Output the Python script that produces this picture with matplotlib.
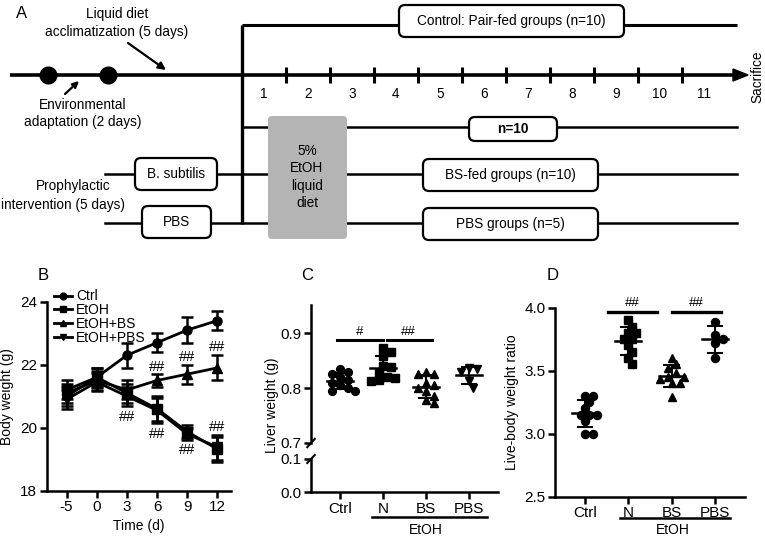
import numpy as np
import matplotlib
matplotlib.use("Agg")
import matplotlib.pyplot as plt
from matplotlib.patches import FancyBboxPatch, Polygon
import matplotlib.transforms as mtransforms

plt.rcParams['font.family'] = ['Liberation Sans', 'DejaVu Sans']
plt.rcParams['font.size'] = 10

# ---- data ----
# panel A (schedule)
day_labels = [str(d) for d in range(1, 12)]
# panel B: body weight
time_labels = ['-5', '0', '3', '6', '9', '12']
ctrl_bw = [21.0, 21.6, 22.3, 22.7, 23.1, 23.4]
ctrl_sd = [0.3, 0.3, 0.4, 0.3, 0.4, 0.3]
etoh_bw = [21.2, 21.6, 21.1, 20.6, 19.87, 19.32]
etoh_sd = [0.3, 0.3, 0.3, 0.4, 0.2, 0.4]
bs_bw = [21.1, 21.5, 21.2, 21.5, 21.7, 21.9]
bs_sd = [0.3, 0.3, 0.3, 0.2, 0.3, 0.4]
pbs_bw = [20.9, 21.45, 21.0, 20.55, 19.8, 19.38]
pbs_sd = [0.3, 0.3, 0.3, 0.4, 0.2, 0.4]
sig_b_idx = [2, 3, 3, 4, 4, 5, 5]
sig_b_y = [20.33, 21.92, 19.8, 22.23, 19.29, 22.57, 20.03]

# panel C: liver weight
groups = ['Ctrl', 'N', 'BS', 'PBS']
ctrl_lw = [0.835, 0.830, 0.825, 0.820, 0.815, 0.810, 0.805, 0.800, 0.795, 0.795]
n_lw = [0.873, 0.866, 0.858, 0.840, 0.838, 0.828, 0.820, 0.818, 0.815, 0.812]
bs_lw = [0.830, 0.825, 0.825, 0.810, 0.805, 0.800, 0.795, 0.785, 0.778, 0.772]
pbs_lw = [0.837, 0.835, 0.830, 0.812, 0.800]

# panel D: liver-body weight ratio
ctrl_ratio = [3.30, 3.30, 3.25, 3.20, 3.15, 3.15, 3.15, 3.10, 3.00, 3.00]
n_ratio = [3.90, 3.85, 3.80, 3.80, 3.75, 3.75, 3.70, 3.65, 3.60, 3.55]
bs_ratio = [3.60, 3.55, 3.52, 3.48, 3.45, 3.45, 3.43, 3.40, 3.40, 3.29]
pbs_ratio = [3.89, 3.78, 3.75, 3.72, 3.60]

W, H = 765, 540
fig = plt.figure(figsize=(W / 100, H / 100), dpi=100)
TICK_FS = 11
LAB_FS = 10


def px_axes(x0, y0, x1, y1):
    # axes from pixel box (top-left origin)
    return fig.add_axes([x0 / W, (H - y1) / H, (x1 - x0) / W, (y1 - y0) / H])


def style(ax):
    for s in ['top', 'right']:
        ax.spines[s].set_visible(False)
    for s in ['left', 'bottom']:
        ax.spines[s].set_linewidth(1.8)
    ax.tick_params(direction='out', length=5, width=1.8, labelsize=TICK_FS, pad=2)


# ================= A =================
axA = fig.add_axes([0, (H - 250) / H, 1, 250 / H])
axA.set_xlim(0, W)
axA.set_ylim(250, 0)
axA.axis('off')
fs = 9.8
axA.text(22, 14, 'A', fontsize=12, ha='center', va='center')

axA.plot([10, 736], [75, 75], color='k', lw=2.6, solid_capstyle='butt')
axA.add_patch(Polygon([[733, 69], [748, 75], [733, 81]], closed=True, color='k'))
axA.plot([48, 108], [75, 75], 'o', color='k', ms=12)
tick_x = 286 + 44 * np.arange(10)
for x in tick_x:
    axA.plot([x, x], [67, 83], color='k', lw=2.2, solid_capstyle='butt')
edges = np.concatenate([[242], tick_x, [726]])
for i, lab in enumerate(day_labels):
    axA.text((edges[i] + edges[i + 1]) / 2, 94, lab, fontsize=fs, ha='center', va='center')
axA.text(757, 77, 'Sacrifice', fontsize=fs, rotation=90, ha='center', va='center')

axA.plot([242, 242], [25, 224], color='k', lw=2.4, solid_capstyle='butt')
axA.plot([242, 737], [25, 25], color='k', lw=2.2, solid_capstyle='butt')
axA.plot([242, 737], [127, 127], color='k', lw=1.8)
axA.plot([105, 737], [174, 174], color='k', lw=1.8)
axA.plot([105, 737], [223, 223], color='k', lw=1.8)

axA.add_patch(FancyBboxPatch((268, 116), 79, 123, boxstyle='round,pad=0,rounding_size=4',
                             fc='#b4b4b4', ec='none', zorder=3))
for j, t in enumerate(['5%', 'EtOH', 'liquid', 'diet']):
    axA.text(307, 151 + 17.5 * j, t, fontsize=fs, ha='center', va='center', zorder=4)


def box(x0, y0, x1, y1, text, bold=False):
    axA.add_patch(FancyBboxPatch((x0, y0), x1 - x0, y1 - y0,
                                 boxstyle='round,pad=0,rounding_size=6',
                                 fc='white', ec='k', lw=1.6, zorder=3))
    axA.text((x0 + x1) / 2, (y0 + y1) / 2, text, fontsize=fs, ha='center', va='center',
             zorder=4, fontweight='bold' if bold else 'normal')


box(399, 5, 624, 37, 'Control: Pair-fed groups (n=10)')
box(469, 117, 557, 141, 'n=10', bold=True)
box(135, 158, 217, 190, 'B. subtilis')
box(423, 159, 598, 191, 'BS-fed groups (n=10)')
box(142, 206, 211, 238, 'PBS')
box(423, 208, 598, 240, 'PBS groups (n=5)')

axA.text(117, 14, 'Liquid diet', fontsize=fs, ha='center', va='center')
axA.text(117, 32, 'acclimatization (5 days)', fontsize=fs, ha='center', va='center')
axA.annotate('', xy=(166, 70), xytext=(128, 43),
             arrowprops=dict(arrowstyle='-|>', color='k', lw=1.6, mutation_scale=11,
                             shrinkA=0, shrinkB=0))
axA.text(83, 105, 'Environmental', fontsize=fs, ha='center', va='center')
axA.text(83, 122, 'adaptation (2 days)', fontsize=fs, ha='center', va='center')
axA.annotate('', xy=(79, 81), xytext=(65, 94),
             arrowprops=dict(arrowstyle='-|>', color='k', lw=1.6, mutation_scale=9,
                             shrinkA=0, shrinkB=0))
axA.text(73, 186, 'Prophylactic', fontsize=fs, ha='center', va='center')
axA.text(63, 205, 'intervention (5 days)', fontsize=fs, ha='center', va='center')

# ================= B =================
axB = px_axes(46.7, 301.7, 231, 490.7)
style(axB)
xi = np.arange(len(time_labels))
series = [(ctrl_bw, ctrl_sd, 'o', 'Ctrl'), (etoh_bw, etoh_sd, 's', 'EtOH'),
          (bs_bw, bs_sd, '^', 'EtOH+BS'), (pbs_bw, pbs_sd, 'v', 'EtOH+PBS')]
for m, s, mk, lab in series:
    axB.errorbar(xi, m, yerr=s, fmt='none', ecolor='k', elinewidth=1.8, capsize=4,
                 capthick=1.8, clip_on=False)
    axB.plot(xi, m, marker=mk, color='k', lw=2, ms=6.5, label=lab, clip_on=False)
for i, y in zip(sig_b_idx, sig_b_y):
    axB.text(xi[i], y, '##', ha='center', va='center', fontsize=10.5)
axB.set_xlim(-0.66, 5.45)
axB.set_ylim(18, 24)
axB.set_yticks([18, 20, 22, 24])
axB.set_xticks(xi)
axB.set_xticklabels(time_labels)
axB.set_xlabel('Time (d)', fontsize=LAB_FS, labelpad=3)
axB.set_ylabel('Body weight (g)', fontsize=LAB_FS, labelpad=4)
axB.legend(loc='upper left', bbox_to_anchor=(0.04, 1.065), frameon=False, fontsize=10,
           handlelength=1.3, handletextpad=0.3, labelspacing=-0.02, borderpad=0,
           borderaxespad=0, markerscale=0.75)
fig.text(43 / W, 1 - 275 / H, 'B', fontsize=12, ha='center', va='center')


# ================= helpers for scatter =================
def swarm_x(ax, xc, vals, diam):
    tr = ax.transData
    ypx = tr.transform(np.c_[np.zeros(len(vals)), vals])[:, 1]
    ppu = tr.transform([[1, 0]])[0, 0] - tr.transform([[0, 0]])[0, 0]
    placed = []
    out = np.zeros(len(vals))
    step = diam * 0.5
    for i in np.argsort(vals)[::-1]:
        y = ypx[i]
        for k in range(40):
            cands = [0.0] if k == 0 else [k * step, -k * step]
            done = False
            for off in cands:
                if all((off - px) ** 2 + (y - py) ** 2 >= (diam * 0.9) ** 2 for px, py in placed):
                    placed.append((off, y))
                    out[i] = xc + off / ppu
                    done = True
                    break
            if done:
                break
    return out


def dot_plot(ax, data, markers, ms):
    diam = ms * 100 / 72
    for k, (vals, mk) in enumerate(zip(data, markers)):
        vals = np.asarray(vals)
        xs = swarm_x(ax, k, vals, diam)
        ax.plot(xs, vals, mk, color='k', ms=ms, ls='none', clip_on=False, zorder=2)
        mu, sd = vals.mean(), vals.std(ddof=1)
        ax.plot([k - 0.3, k + 0.3], [mu, mu], color='k', lw=1.8, zorder=3)
        ax.plot([k, k], [mu - sd, mu + sd], color='k', lw=1.5, zorder=3)
        for y in (mu - sd, mu + sd):
            ax.plot([k - 0.17, k + 0.17], [y, y], color='k', lw=1.5, zorder=3)


# ================= C =================
axC = px_axes(311, 305, 498, 443)
axC2 = px_axes(311, 459, 498, 492)
for a in (axC, axC2):
    style(a)
    a.set_xlim(-0.67, 3.67)
axC.spines['bottom'].set_visible(False)
axC.tick_params(axis='x', bottom=False, labelbottom=False)
axC.set_ylim(0.7, 0.951)
axC.set_yticks([0.7, 0.8, 0.9])
axC.set_yticklabels(['0.7', '0.8', '0.9'])
axC2.set_ylim(0, 0.1)
axC2.set_yticks([0.0, 0.1])
axC2.set_yticklabels(['0.0', '0.1'])
axC2.set_xticks(range(len(groups)))
axC2.set_xticklabels(groups)
dot_plot(axC, [ctrl_lw, n_lw, bs_lw, pbs_lw], ['o', 's', '^', 'v'], 5.6)
# break marks
axC.plot([-0.02, 0.02], [-0.03, 0.03], transform=axC.transAxes, color='k', lw=1.5, clip_on=False)
axC2.plot([-0.02, 0.02], [0.88, 1.12], transform=axC2.transAxes, color='k', lw=1.5, clip_on=False)
axC.plot([-0.07, 1.0], [0.887, 0.887], color='k', lw=2.2, clip_on=False)
axC.plot([1.09, 2.14], [0.887, 0.887], color='k', lw=2.2, clip_on=False)
axC.text(0.47, 0.891, '#', ha='center', va='bottom', fontsize=9.5)
axC.text(1.6, 0.891, '##', ha='center', va='bottom', fontsize=9.5)
fig.text(272 / W, 1 - 405 / H, 'Liver weight (g)', rotation=90, fontsize=LAB_FS,
         ha='center', va='center')
trC = mtransforms.blended_transform_factory(axC2.transData, fig.transFigure)
axC2.plot([0.74, 3.42], [1 - 517 / H] * 2, color='k', lw=1.8, transform=trC, clip_on=False)
axC2.text(2.0, 1 - 530 / H, 'EtOH', transform=trC, ha='center', va='center', fontsize=LAB_FS)
fig.text(307 / W, 1 - 275 / H, 'C', fontsize=12, ha='center', va='center')

# ================= D =================
axD = px_axes(555, 307.7, 745, 496.5)
style(axD)
axD.set_xlim(-0.69, 3.69)
axD.set_ylim(2.5, 4.0)
axD.set_yticks([2.5, 3.0, 3.5, 4.0])
axD.set_yticklabels(['2.5', '3.0', '3.5', '4.0'])
axD.set_xticks(range(len(groups)))
axD.set_xticklabels(groups)
dot_plot(axD, [ctrl_ratio, n_ratio, bs_ratio, pbs_ratio], ['o', 's', '^', 'o'], 5.8)
axD.plot([0.53, 1.66], [3.966, 3.966], color='k', lw=2.4, clip_on=False)
axD.plot([2.0, 3.14], [3.966, 3.966], color='k', lw=2.4, clip_on=False)
axD.text(1.1, 3.99, '##', ha='center', va='bottom', fontsize=9.5)
axD.text(2.57, 3.99, '##', ha='center', va='bottom', fontsize=9.5)
axD.set_ylabel('Live-body weight ratio', fontsize=LAB_FS, labelpad=4)
trD = mtransforms.blended_transform_factory(axD.transData, fig.transFigure)
axD.plot([0.81, 3.35], [1 - 518 / H] * 2, color='k', lw=1.8, transform=trD, clip_on=False)
axD.text(2.02, 1 - 530 / H, 'EtOH', transform=trD, ha='center', va='center', fontsize=LAB_FS)
fig.text(553 / W, 1 - 275 / H, 'D', fontsize=12, ha='center', va='center')

fig.savefig('out.png', dpi=100)
